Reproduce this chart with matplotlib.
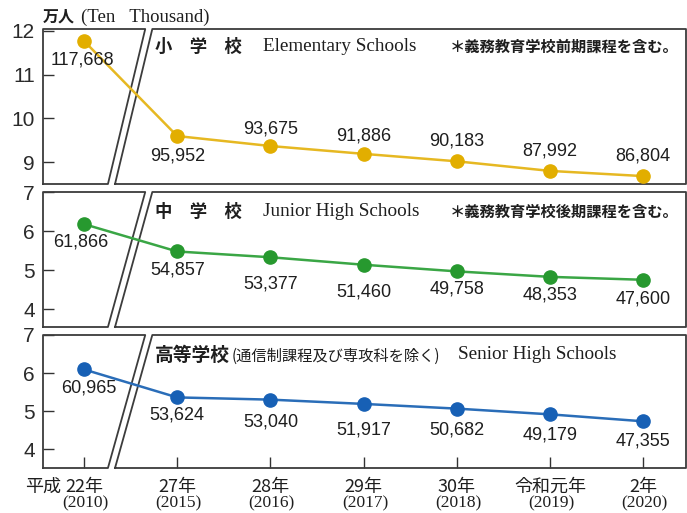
import matplotlib
matplotlib.use('Agg')
import matplotlib.pyplot as plt

# 在学者数（人）
era_labels = ['22年', '27年', '28年', '29年', '30年', '令和元年', '2年']
ad_labels = ['(2010)', '(2015)', '(2016)', '(2017)', '(2018)', '(2019)', '(2020)']
elementary = [117668, 95952, 93675, 91886, 90183, 87992, 86804]
junior = [61866, 54857, 53377, 51460, 49758, 48353, 47600]
senior = [60965, 53624, 53040, 51917, 50682, 49179, 47355]

CJK = 'Noto Sans CJK JP'
SERIF = 'Liberation Serif'
SANS = 'Liberation Sans'
W, H = 687, 513
PT = 0.72  # px -> points at dpi 100
INK = '#1e1e1e'

fig = plt.figure(figsize=(W / 100, H / 100), dpi=100)
fig.patch.set_facecolor('white')

panels = [
    dict(vals=elementary, line='#E6B822', dot='#E2AE00', top=29, bottom=184,
         ylim=(8.50, 12.04), ticks=[9, 10, 11, 12],
         dy=[19, 20, -17, -18, -20, -20, -20], dx=[-2, 0, 0, 0, 0, 0, 0]),
    dict(vals=junior, line='#3AA645', dot='#27992F', top=192, bottom=327,
         ylim=(3.55, 7.01), ticks=[4, 5, 6, 7],
         dy=[18, 19, 27, 27, 18, 18, 19], dx=[-3, 0, 0, 0, 0, 0, 0]),
    dict(vals=senior, line='#2A6DB8', dot='#1760B5', top=335, bottom=468,
         ylim=(3.51, 6.97), ticks=[4, 5, 6, 7],
         dy=[19, 18, 22, 26, 21, 21, 20], dx=[5, 0, 0, 0, 0, 0, 0]),
]

axes = []
for p in panels:
    ax = fig.add_axes([43 / W, 1 - p['bottom'] / H, 643 / W, (p['bottom'] - p['top']) / H])
    x = list(range(len(p['vals'])))
    y = [v / 10000 for v in p['vals']]
    ax.plot(x, y, '-', color=p['line'], lw=1.8, zorder=3)
    ax.plot(x, y, 'o', color=p['dot'], ms=9.5, zorder=4)
    for i, v in enumerate(p['vals']):
        ax.annotate(f'{v:,}', xy=(i, v / 10000), xytext=(p['dx'][i] * PT, -p['dy'][i] * PT),
                    textcoords='offset points', ha='center', va='center',
                    fontsize=13, family=SANS, color=INK, zorder=5)
    ax.set_xlim(-0.44, 6.46)
    ax.set_ylim(*p['ylim'])
    ax.set_yticks(p['ticks'])
    ax.set_yticklabels([str(t) for t in p['ticks']], family=SANS, fontsize=15, color='#2a2a2a')
    ax.set_xticks(x)
    ax.tick_params(axis='y', direction='in', length=8, width=1, pad=6, color='#333333')
    ax.tick_params(axis='x', direction='in', length=0, labelbottom=False)
    for s in ax.spines.values():
        s.set_visible(False)
    # frame with the slanted break
    left_box = [(0, 0), (0, 1), (0.159, 1), (0.101, 0), (0, 0)]
    right_box = [(0.112, 0), (0.170, 1), (1, 1), (1, 0), (0.112, 0)]
    for box in (left_box, right_box):
        ax.plot([b[0] for b in box], [b[1] for b in box], transform=ax.transAxes,
                color='#3c3c3c', lw=1.3, clip_on=False, zorder=2)
    axes.append(ax)

ax1, ax2, ax3 = axes

# panel titles
ax1.text(0.174, 0.884, '小　学　校', transform=ax1.transAxes, family=CJK, fontweight='bold',
         fontsize=12.5, va='center', ha='left', color=INK)
ax1.text(0.342, 0.884, 'Elementary Schools', transform=ax1.transAxes, family=SERIF,
         fontsize=13.8, va='center', ha='left', color=INK)
ax1.text(0.633, 0.884, '＊義務教育学校前期課程を含む。', transform=ax1.transAxes, family=CJK,
         fontweight='bold', fontsize=11, va='center', ha='left', color=INK)

ax2.text(0.174, 0.852, '中　学　校', transform=ax2.transAxes, family=CJK, fontweight='bold',
         fontsize=12.5, va='center', ha='left', color=INK)
ax2.text(0.342, 0.852, 'Junior High Schools', transform=ax2.transAxes, family=SERIF,
         fontsize=13.8, va='center', ha='left', color=INK)
ax2.text(0.633, 0.852, '＊義務教育学校後期課程を含む。', transform=ax2.transAxes, family=CJK,
         fontweight='bold', fontsize=11, va='center', ha='left', color=INK)

ax3.text(0.174, 0.85, '高等学校', transform=ax3.transAxes, family=CJK, fontweight='bold',
         fontsize=13.5, va='center', ha='left', color=INK)
ax3.text(0.293, 0.84, '(通信制課程及び専攻科を除く)', transform=ax3.transAxes, family=CJK,
         fontsize=11, va='center', ha='left', color=INK)
ax3.text(0.645, 0.85, 'Senior High Schools', transform=ax3.transAxes, family=SERIF,
         fontsize=13.8, va='center', ha='left', color=INK)

# x axis labels on bottom panel
ax3.tick_params(axis='x', direction='in', length=8, width=1, color='#333333')
for i, (era, ad) in enumerate(zip(era_labels, ad_labels)):
    t = ax3.annotate(era, xy=(i, 0), xycoords=('data', 'axes fraction'), xytext=(0, -19 * PT),
                     textcoords='offset points', ha='center', va='center', family=CJK,
                     fontsize=13, color=INK)
    ax3.annotate(ad, xy=(i, 0), xycoords=('data', 'axes fraction'), xytext=(1, -35 * PT),
                 textcoords='offset points', ha='center', va='center', family=SERIF,
                 fontsize=12.5, color=INK)
    if i == 0:
        ax3.annotate('平成', xy=(0, 0.5), xycoords=t, xytext=(-3, 0), textcoords='offset points',
                     ha='right', va='center', family=CJK, fontsize=13, color=INK)

# unit header
fig.text(43 / W, 1 - 17 / H, '万人', family=CJK, fontweight='bold', fontsize=11.5,
         va='center', ha='left', color=INK)
fig.text(81 / W, 1 - 17 / H, '(Ten   Thousand)', family=SERIF, fontsize=13.5,
         va='center', ha='left', color=INK)

fig.savefig('out.png', dpi=100, facecolor='white')
